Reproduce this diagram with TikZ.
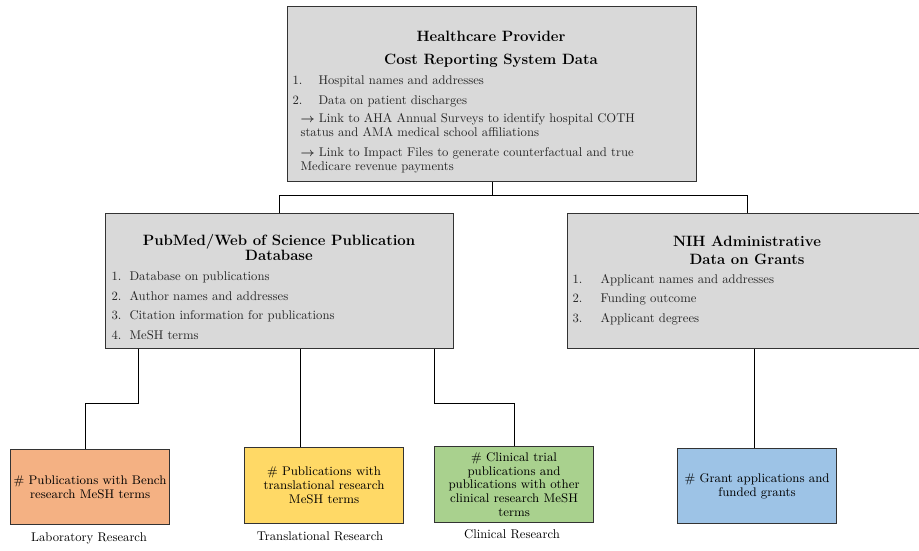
\documentclass[tikz,border=0pt]{standalone}
\usepackage[dvipsnames]{xcolor}
\usepackage{amsmath}
\usetikzlibrary{positioning,calc}
\definecolor{boxgray}{HTML}{D9D9D9}
\definecolor{labcol}{HTML}{F4B183}
\definecolor{transcol}{HTML}{FFD966}
\definecolor{clincol}{HTML}{A9D18E}
\definecolor{grantcol}{HTML}{9DC3E6}
\tikzset{
    src/.style={draw=black!80,fill=boxgray,anchor=north west,inner sep=0pt},
    item/.style={anchor=base west,inner sep=0pt,font=\fontsize{9.5}{11}\selectfont,text=black!85},
    head/.style={anchor=base,inner sep=0pt,font=\fontsize{11.2}{13}\selectfont\bfseries},
    outcome/.style={draw=black!80,anchor=north west,inner sep=2pt,minimum width=159*0.75pt,align=center,font=\fontsize{9.4}{10.4}\selectfont},
    tag/.style={anchor=base,inner sep=0pt,font=\fontsize{9.5}{11}\selectfont},
}

\begin{document}
\begin{tikzpicture}[x=0.75pt,y=-0.75pt,every path/.style={line width=0.85pt}]
        \useasboundingbox (0,0) rectangle (919,550);
        % source boxes
        \node[src,minimum width=409*0.75pt,minimum height=175*0.75pt] (cr) at (287,6){};
        \node[src,minimum width=348*0.75pt,minimum height=135*0.75pt] (pub) at (105,213){};
        \node[src,minimum width=360*0.75pt,minimum height=135*0.75pt] (nih) at (567,213){};

        % top box text
        \node[head] (cr1) at (491,41){Healthcare Provider};
        \node[head] (cr2) at (491,64){Cost Reporting System Data};
        \node[item] (cr3) at (292,84){1.};
        \node[item] (cr4) at (318,84){Hospital names and addresses};
        \node[item] (cr5) at (292,104){2.};
        \node[item] (cr6) at (318,104){Data on patient discharges};
        \node[item] (cr7) at (300,122){$\boldsymbol{\rightarrow}$ Link to AHA Annual Surveys to identify hospital COTH};
        \node[item] (cr8) at (300,136){status and AMA medical school affiliations};
        \node[item] (cr9) at (300,156){$\boldsymbol{\rightarrow}$ Link to Impact Files to generate counterfactual and true};
        \node[item] (cr10) at (300,170){Medicare revenue payments};

        % publication box text
        \node[head] (pub1) at (279,245){PubMed/Web of Science Publication};
        \node[head] (pub2) at (279,260){Database};
        \foreach \n/\t [count=\i] in {280/Database on publications,300/Author names and addresses,319/Citation information for publications,339/MeSH terms}{
            \node[item] (pubn\i) at (111,\n){\i.};
            \node[item] (pubt\i) at (129,\n){\t};
        }

        % grants box text
        \node[head] (nih1) at (747,246){NIH Administrative};
        \node[head] (nih2) at (747,264){Data on Grants};
        \foreach \n/\t [count=\i] in {283/Applicant names and addresses,302/Funding outcome,322/Applicant degrees}{
            \node[item] (nihn\i) at (572,\n){\i.};
            \node[item] (niht\i) at (600,\n){\t};
        }

        % outcome boxes
        \node[outcome,fill=labcol,minimum height=75*0.75pt] (lab) at (10,449){\# Publications with Bench\\research MeSH terms};
        \node[outcome,fill=transcol,minimum height=76*0.75pt] (trans) at (244,447){\# Publications with\\translational research\\MeSH terms};
        \node[outcome,fill=clincol,minimum height=76*0.75pt] (clin) at (434,446){\# Clinical trial\\publications and\\publications with other\\clinical research MeSH\\terms};
        \node[outcome,fill=grantcol,minimum height=75*0.75pt] (grant) at (677,448){\# Grant applications and\\funded grants};

        \node[tag] (lab1) at (89,541){Laboratory Research};
        \node[tag] (trans1) at (320,540){Translational Research};
        \node[tag] (clin1) at (512,538){Clinical Research};

        % connectors
        \coordinate (p1) at ([xshift=33.5*0.75pt]pub.south west);
        \coordinate (p2) at ([xshift=195.5*0.75pt]pub.south west);
        \coordinate (p3) at ([xshift=329.5*0.75pt]pub.south west);
        \coordinate (g1) at ([xshift=187.5*0.75pt]nih.south west);
        \draw (cr.south) -- ++(0,13.5) -| (pub.north);
        \draw (cr.south) -- ++(0,13.5) -| (nih.north);
        \draw (p1) -- ++(0,54.5) -| ([xshift=-5*0.75pt]lab.north);
        \draw (p2) -- (p2 |- trans.north);
        \draw (p3) -- ++(0,54.5) -| (clin.north);
        \draw (g1) -- (g1 |- grant.north);
\end{tikzpicture}
\end{document}
